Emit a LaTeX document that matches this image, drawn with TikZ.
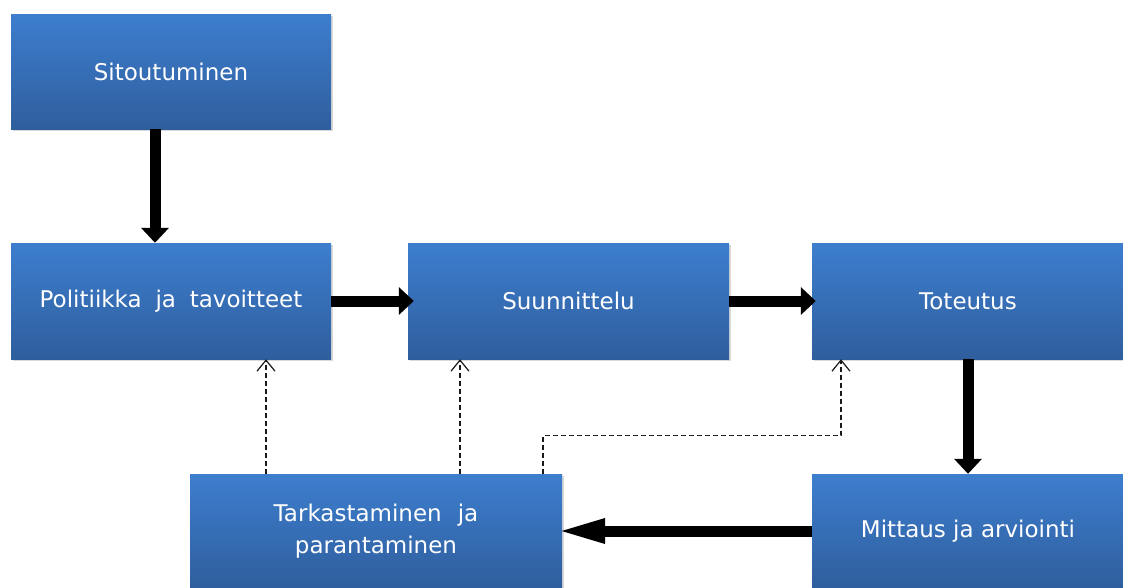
\documentclass[tikz,border=0pt]{standalone}
\usepackage{fontspec}
\setmainfont{DejaVu Sans}
\usetikzlibrary{arrows.meta,shadows}
\definecolor{boxtop}{HTML}{3D7ECE}
\definecolor{boxbot}{HTML}{2F5E9D}
\tikzset{
  box/.style={rectangle, inner sep=0pt, align=center, text=white,
    top color=boxtop, bottom color=boxbot,
    font=\fontsize{23}{32}\selectfont,
    drop shadow={opacity=0.3, shadow xshift=2pt, shadow yshift=-2pt}},
  bigarrow/.style={line width=11pt, draw=black,
    -{Triangle[width=27pt,length=15pt]}},
  longarrow/.style={line width=11pt, draw=black,
    -{Triangle[width=22pt,length=50pt]}},
  dasharrow/.style={draw=black!90, line width=1.2pt, dash pattern=on 5pt off 3pt,
    -{Straight Barb[width=18pt,length=11pt,line width=1.2pt]}}
}
\begin{document}
\begin{tikzpicture}[x=1pt,y=-1pt]
\useasboundingbox (0,0) rectangle (1123,587);
\node[box, minimum width=320, minimum height=115] (sit) at (171,71.5) {Sitoutuminen};
\node[box, minimum width=320, minimum height=116] (pol) at (171,301) {Politiikka\hspace{0.6em}ja\hspace{0.6em}tavoitteet};
\node[box, minimum width=321, minimum height=116] (suu) at (568.5,301) {Suunnittelu};
\node[box, minimum width=312, minimum height=116] (tot) at (968,301) {Toteutus};
\node[box, minimum width=372, minimum height=114] (tar) at (376,531) {Tarkastaminen\hspace{0.7em}ja\\parantaminen};
\node[box, minimum width=312, minimum height=114] (mit) at (968,531) {Mittaus ja arviointi};

\draw[bigarrow] ([xshift=-16]sit.south) -- ([xshift=-16]pol.north);
\draw[bigarrow, shorten >=-6pt] (pol.east) -- (suu.west);
\draw[bigarrow, shorten >=-4pt] (suu.east) -- (tot.west);
\draw[bigarrow] (tot.south) -- (mit.north);
\draw[longarrow, shorten >=-7pt] (mit.west) -- (tar.east);

\draw[dasharrow] ([xshift=-110]tar.north) -- ([xshift=-110]tar.north |- pol.south);
\draw[dasharrow] ([xshift=84]tar.north) -- ([xshift=84]tar.north |- suu.south);
\draw[dasharrow] ([xshift=167]tar.north) -- ++(0,-38) -| ([xshift=-127]tot.south);
\end{tikzpicture}
\end{document}
